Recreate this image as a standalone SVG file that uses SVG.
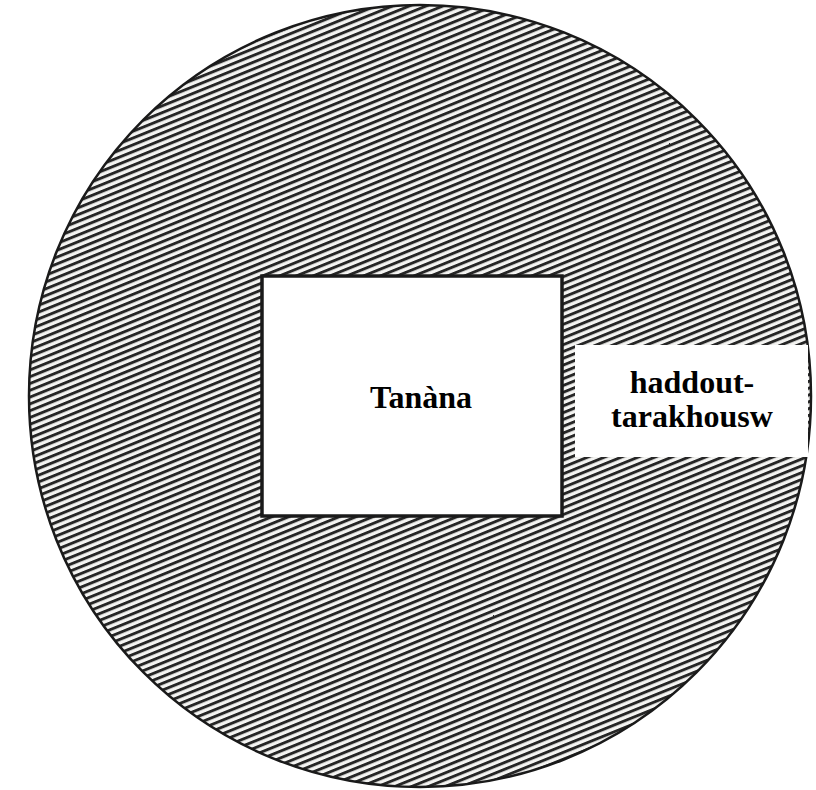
<svg xmlns="http://www.w3.org/2000/svg" width="816" height="790" viewBox="0 0 816 790">
  <style>
    .lbl { font-family: "Liberation Serif", "Times New Roman", serif; font-weight: bold; font-size: 32px; fill: #000; text-anchor: middle; }
  </style>
  <defs>
    <pattern id="hatch" patternUnits="userSpaceOnUse" width="20" height="6.3" patternTransform="rotate(-22)">
      <rect x="0" y="0" width="20" height="6.3" fill="#f4f4f2"/>
      <rect x="0" y="0" width="20" height="2.9" fill="#262626"/>
    </pattern>
  </defs>
  <rect width="816" height="790" fill="#ffffff"/>
  <g id="disc">
    <circle cx="420" cy="396" r="391" fill="url(#hatch)" stroke="#1a1a1a" stroke-width="2.5"/>
  </g>
  <g id="tanana">
    <rect x="262" y="276" width="300" height="240" fill="#ffffff" stroke="#1a1a1a" stroke-width="3.5"/>
    <text class="lbl" x="421" y="408">Tanàna</text>
  </g>
  <g id="haddout">
    <rect x="575" y="345" width="233" height="112" fill="#ffffff"/>
    <text class="lbl" x="692" y="393">haddout-</text>
    <text class="lbl" x="692" y="427">tarakhousw</text>
  </g>
  <g id="connectors"/>
</svg>
